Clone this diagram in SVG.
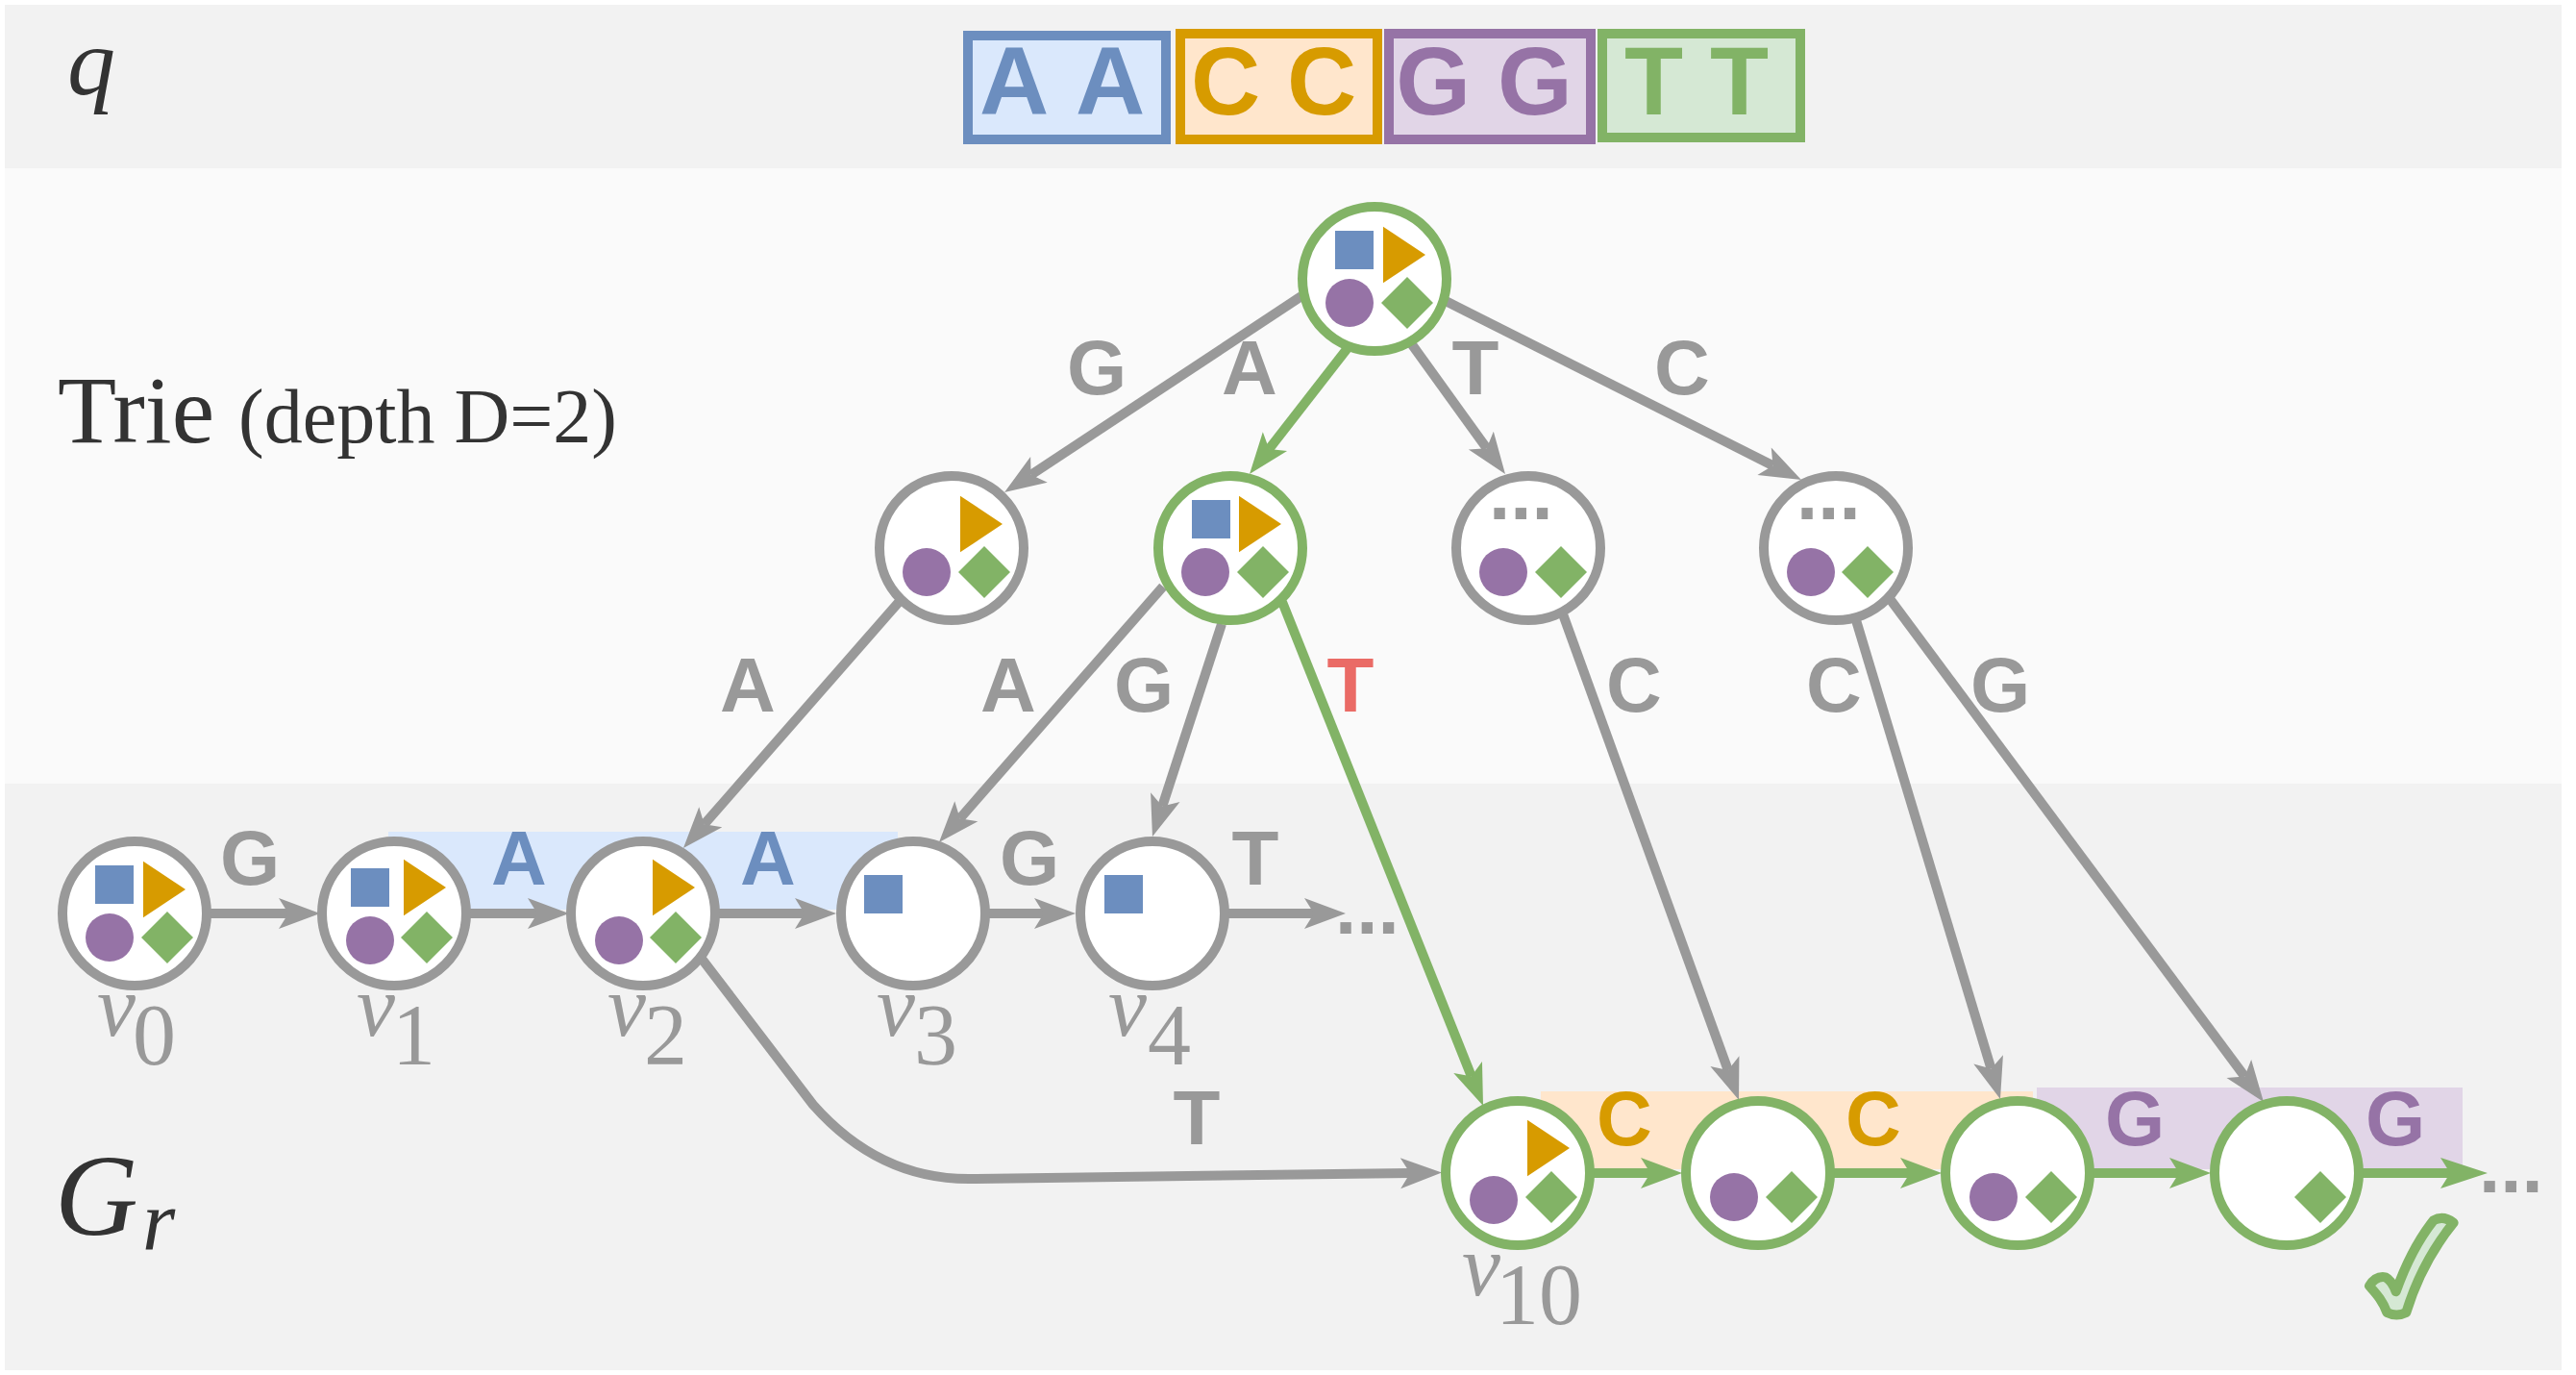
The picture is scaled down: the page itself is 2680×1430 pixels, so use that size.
<svg xmlns="http://www.w3.org/2000/svg" width="2680" height="1430" viewBox="0 0 2680 1430">
<style>
.n{fill:#fff;stroke-width:10}
.gy{stroke:#999999}.gn{stroke:#82b366}
.e{fill:none;stroke-width:10}
.h{fill:none;stroke-width:10}
.l{font-family:"Liberation Sans",Arial,sans-serif;font-weight:700;font-size:80px;text-anchor:middle;fill:#999999;font-kerning:none}
.big{font-size:100px}
.dots{text-anchor:start}
.b{fill:#6c8ebf}.o{fill:#d79b00}.p{fill:#9673a6}.g{fill:#82b366}.r{fill:#ea6b66}
.s{font-family:"Liberation Serif","Times New Roman",serif;fill:#333333}
.v{font-family:"Liberation Serif","Times New Roman",serif;font-size:90px;fill:#999999}
.i{font-style:italic}
</style>
<defs>
<rect id="sq" width="40" height="40" fill="#6c8ebf"/>
<polygon id="tri" points="0,-29.3 44,0 0,29.3" fill="#d79b00"/>
<circle id="dot" r="25" fill="#9673a6"/>
<polygon id="dia" points="-27,0 0,-27 27,0 0,27" fill="#82b366"/>
<marker id="ag" markerUnits="userSpaceOnUse" markerWidth="60" markerHeight="40" refX="15" refY="20" orient="auto" overflow="visible"><path d="M5,4 L48,20 L5,36 L15,20 Z" fill="#999999"/></marker>
<marker id="an" markerUnits="userSpaceOnUse" markerWidth="60" markerHeight="40" refX="15" refY="20" orient="auto" overflow="visible"><path d="M5,4 L48,20 L5,36 L15,20 Z" fill="#82b366"/></marker>
<marker id="an2" markerUnits="userSpaceOnUse" markerWidth="60" markerHeight="40" refX="15" refY="20" orient="auto" overflow="visible"><path d="M5,4 L54,20 L5,36 L15,20 Z" fill="#82b366"/></marker>
</defs>

<g id="bands">
<rect x="5" y="5" width="2660" height="170" fill="#f2f2f2"/>
<rect x="5" y="175" width="2660" height="640" fill="#fafafa"/>
<rect x="5" y="815" width="2660" height="610" fill="#f2f2f2"/>
<rect x="404" y="865" width="530" height="81" fill="#dae8fc"/>
<rect x="1603" y="1135" width="512" height="81" fill="#ffe6cc"/>
<rect x="2119" y="1131" width="443" height="85" fill="#e1d5e7"/>
</g>

<g id="query">
<rect x="1007" y="37" width="206" height="108" fill="#dae8fc" stroke="#6c8ebf" stroke-width="10"/>
<rect x="1228" y="35" width="205" height="110" fill="#ffe6cc" stroke="#d79b00" stroke-width="10"/>
<rect x="1445" y="35" width="210" height="110" fill="#e1d5e7" stroke="#9673a6" stroke-width="10"/>
<rect x="1667" y="35" width="206" height="108" fill="#d5e8d4" stroke="#82b366" stroke-width="10"/>
<text class="l big b" x="1105" y="119">A A</text>
<text class="l big o" x="1325" y="119">C C</text>
<text class="l big p" x="1544" y="119">G G</text>
<text class="l big g" x="1765" y="119">T T</text>
</g>

<g id="titles">
<text class="s i" x="70" y="98" font-size="100">q</text>
<text class="s" x="60" y="460" font-size="100">Trie</text>
<text class="s" x="248" y="460" font-size="80">(depth D=2)</text>
<text class="s i" x="57" y="1284" font-size="120">G<tspan x="148" y="1299" font-size="88">r</tspan></text>
</g>

<g id="connectors">
<path class="e gy" marker-end="url(#ag)" d="M1354,308 L1072.6,493.8"/>
<path class="e gn" marker-end="url(#an)" d="M1402,362 L1320.3,467"/>
<path class="e gy" marker-end="url(#ag)" d="M1468,357 L1546.7,466.2"/>
<path class="e gy" marker-end="url(#ag)" d="M1502,312 L1844.5,484.2"/>
<path class="e gy" marker-end="url(#ag)" d="M937,624 L732.7,857.2"/>
<path class="e gy" marker-end="url(#ag)" d="M1210,610 L998.7,851.2"/>
<path class="e gy" marker-end="url(#ag)" d="M1271,649 L1209.2,838.6"/>
<path class="e gn" marker-end="url(#an)" d="M1334,626 L1530.8,1119.3"/>
<path class="e gy" marker-end="url(#ag)" d="M1625,636 L1797.8,1113"/>
<path class="e gy" marker-end="url(#ag)" d="M1931,645 L2071.5,1111.4"/>
<path class="e gy" marker-end="url(#ag)" d="M1967,624 L2335.3,1119.5"/>
<path class="h gy" marker-end="url(#ag)" d="M215,950 H300"/>
<path class="h gy" marker-end="url(#ag)" d="M485,950 H559"/>
<path class="h gy" marker-end="url(#ag)" d="M745,950 H837"/>
<path class="h gy" marker-end="url(#ag)" d="M1025,950 H1086"/>
<path class="h gy" marker-end="url(#ag)" d="M1275,950 H1367"/>
<path class="h gy" marker-end="url(#ag)" d="M730,997 L846,1149 Q915,1227 1010,1226 L1467,1220"/>
<path class="h gn" marker-end="url(#an)" d="M1654,1220 H1717"/>
<path class="h gn" marker-end="url(#an)" d="M1904,1220 H1987"/>
<path class="h gn" marker-end="url(#an)" d="M2174,1220 H2267"/>
<path class="h gn" marker-end="url(#an2)" d="M2454,1220 H2549"/>
</g>

<g id="edge-labels">
<text class="l" x="1141" y="410">G</text>
<text class="l" x="1300" y="410">A</text>
<text class="l" x="1535" y="410">T</text>
<text class="l" x="1750" y="410">C</text>
<text class="l" x="778" y="740">A</text>
<text class="l" x="1049" y="740">A</text>
<text class="l" x="1190" y="740">G</text>
<text class="l r" x="1405" y="740">T</text>
<text class="l" x="1700" y="740">C</text>
<text class="l" x="1908" y="740">C</text>
<text class="l" x="2081" y="740">G</text>
<text class="l" x="260" y="920">G</text>
<text class="l b" x="540" y="920">A</text>
<text class="l b" x="799" y="920">A</text>
<text class="l" x="1071" y="920">G</text>
<text class="l" x="1306" y="920">T</text>
<text class="l" x="1245" y="1190">T</text>
<text class="l o" x="1690" y="1191">C</text>
<text class="l o" x="1949" y="1191">C</text>
<text class="l p" x="2221" y="1191">G</text>
<text class="l p" x="2492" y="1191">G</text>
<text class="l dots" x="1389" y="971">...</text>
<text class="l dots" x="2579" y="1240">...</text>
</g>

<g id="root"><circle class="n gn" cx="1430" cy="290" r="75"/><use href="#sq" x="1389" y="240"/><use href="#tri" x="1439" y="265"/><use href="#dot" x="1404" y="315"/><use href="#dia" x="1464" y="315"/></g>
<g id="trie-g"><circle class="n gy" cx="990" cy="570" r="75"/><use href="#tri" x="999" y="545"/><use href="#dot" x="964" y="595"/><use href="#dia" x="1024" y="595"/></g>
<g id="trie-a"><circle class="n gn" cx="1280" cy="570" r="75"/><use href="#sq" x="1240" y="520"/><use href="#tri" x="1289" y="545"/><use href="#dot" x="1254" y="595"/><use href="#dia" x="1314" y="595"/></g>
<g id="trie-t"><circle class="n gy" cx="1590" cy="570" r="75"/><text class="l dots" x="1549" y="540">...</text><use href="#dot" x="1564" y="595"/><use href="#dia" x="1624" y="595"/></g>
<g id="trie-c"><circle class="n gy" cx="1910" cy="570" r="75"/><text class="l dots" x="1869" y="540">...</text><use href="#dot" x="1884" y="595"/><use href="#dia" x="1943" y="595"/></g>

<g id="v0"><circle class="n gy" cx="140" cy="950" r="75"/><use href="#sq" x="99" y="900"/><use href="#tri" x="149" y="925"/><use href="#dot" x="114" y="975"/><use href="#dia" x="174" y="975"/><text class="v"><tspan class="i" x="101" y="1077">v</tspan><tspan x="138" y="1107">0</tspan></text></g>
<g id="v1"><circle class="n gy" cx="410" cy="950" r="75"/><use href="#sq" x="365" y="903"/><use href="#tri" x="420" y="923"/><use href="#dot" x="385" y="978"/><use href="#dia" x="444" y="975"/><text class="v"><tspan class="i" x="371" y="1077">v</tspan><tspan x="408" y="1107">1</tspan></text></g>
<g id="v2"><circle class="n gy" cx="669" cy="950" r="75"/><use href="#tri" x="679" y="923"/><use href="#dot" x="644" y="978"/><use href="#dia" x="703" y="975"/><text class="v"><tspan class="i" x="632" y="1077">v</tspan><tspan x="670" y="1107">2</tspan></text></g>
<g id="v3"><circle class="n gy" cx="950" cy="950" r="75"/><use href="#sq" x="899" y="910"/><text class="v"><tspan class="i" x="912" y="1077">v</tspan><tspan x="951" y="1107">3</tspan></text></g>
<g id="v4"><circle class="n gy" cx="1199" cy="950" r="75"/><use href="#sq" x="1149" y="910"/><text class="v"><tspan class="i" x="1153" y="1077">v</tspan><tspan x="1194" y="1107">4</tspan></text></g>

<g id="v10"><circle class="n gn" cx="1579" cy="1220" r="75"/><use href="#tri" x="1589" y="1194"/><use href="#dot" x="1554" y="1248"/><use href="#dia" x="1614" y="1245"/><text class="v"><tspan class="i" x="1521" y="1347">v</tspan><tspan x="1556" y="1377">10</tspan></text></g>
<g id="v11"><circle class="n gn" cx="1829" cy="1220" r="75"/><use href="#dot" x="1804" y="1245"/><use href="#dia" x="1864" y="1245"/></g>
<g id="v12"><circle class="n gn" cx="2099" cy="1220" r="75"/><use href="#dot" x="2074" y="1245"/><use href="#dia" x="2134" y="1245"/></g>
<g id="v13"><circle class="n gn" cx="2379" cy="1220" r="75"/><use href="#dia" x="2414" y="1245"/></g>

<g id="check"><path transform="translate(2350,1180) scale(0.3333)" d="M608,275 C555,340 500,425 460,555 Q430,570 400,555 C385,515 365,495 345,472 Q365,440 395,445 Q415,455 428,490 C460,400 500,325 545,268 Q575,250 608,275 Z" fill="#d5e8d4" stroke="#82b366" stroke-width="30" stroke-linejoin="round"/></g>
</svg>
